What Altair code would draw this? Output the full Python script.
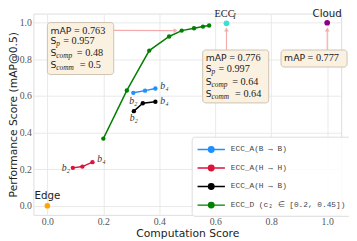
import altair as alt
import pandas as pd

# ---------------- data ----------------
series_names = ["ECC_A(B → B)", "ECC_A(H → H)", "ECC_A(H → B)", "ECC_D (c₂ ∈ [0.2, 0.45])"]
series_colors = ["#1e90ff", "#dc143c", "#000000", "#008000"]

blue_x = [0.307, 0.349, 0.386]
blue_y = [0.617, 0.629, 0.641]
red_x = [0.091, 0.125, 0.161]
red_y = [0.207, 0.214, 0.238]
black_x = [0.309, 0.341, 0.386]
black_y = [0.517, 0.560, 0.568]
green_x = [0.200, 0.284, 0.364, 0.435, 0.480, 0.524, 0.556, 0.578]
green_y = [0.367, 0.630, 0.848, 0.925, 0.957, 0.970, 0.979, 0.985]

edge_x, edge_y = [0.0], [0.0]
ecci_x, ecci_y = [0.64], [0.997]
cloud_x, cloud_y = [1.0], [1.0]

box1_lines = [("mAP", "", "= 0.763"), ("S", "p", "= 0.957"), ("S", "comp", "= 0.48"), ("S", "comm", "= 0.5")]
box2_lines = [("mAP", "", "= 0.776"), ("S", "p", "= 0.997"), ("S", "comp", "= 0.64"), ("S", "comm", "= 0.64")]
box3_lines = [("mAP", "", "= 0.777")]

tick_values = [0.0, 0.2, 0.4, 0.6, 0.8, 1.0]

# ---------------- styling ----------------
SANS = "DejaVu Sans"
SERIF = "Liberation Serif"
MONO = "Liberation Mono"
BOX_FILL = "#fbf1e1"
BOX_STROKE = "#cdc2b0"
ARROW = "#f4abab"

xs = alt.Scale(domain=[-0.05, 1.05], nice=False, zero=False)
ys = alt.Scale(domain=[-0.05, 1.05], nice=False, zero=False)
X = alt.X("x:Q", scale=xs, axis=alt.Axis(title="Computation Score", values=tick_values, format=".1f"))
Y = alt.Y("y:Q", scale=ys, axis=alt.Axis(title="Performance Score (mAP@0.5)", values=tick_values, format=".1f"))

rows = []
for name, xv, yv in zip(series_names, [blue_x, red_x, black_x, green_x], [blue_y, red_y, black_y, green_y]):
    for i, (a, b) in enumerate(zip(xv, yv)):
        rows.append({"series": name, "x": a, "y": b, "idx": i})
df = pd.DataFrame(rows)

legend_path = "M-2,0H2M-0.4,0A0.4,0.4,0,1,0,0.4,0A0.4,0.4,0,1,0,-0.4,0Z"
color = alt.Color(
    "series:N",
    scale=alt.Scale(domain=series_names, range=series_colors),
    sort=series_names,
    legend=alt.Legend(
        title=None, orient="none", legendX=162, legendY=126,
        symbolType=legend_path, symbolSize=196, symbolStrokeWidth=1.5,
        symbolOffset=7, labelOffset=12, padding=5, rowPadding=5,
        labelFont=MONO, labelFontSize=8, labelColor="#444",
        fillColor="rgba(255,255,255,0.85)", strokeColor="#dddddd", cornerRadius=3,
    ),
)

lines = alt.Chart(df).mark_line(strokeWidth=1.5).encode(x=X, y=Y, color=color, order="idx:Q")
pts = alt.Chart(df).mark_point(filled=True, size=20, opacity=1).encode(x=X, y=Y, color=color)


def one(x, y, text=""):
    return alt.Chart(pd.DataFrame({"x": [x], "y": [y], "t": [text]}))


def txt(x, y, text, font, size, dx=0, dy=0, style="normal", align="left", col="#222"):
    return one(x, y, text).mark_text(
        align=align, baseline="middle", dx=dx, dy=dy, font=font, fontSize=size,
        fontStyle=style, color=col
    ).encode(x=X, y=Y, text="t:N")


layers = []


def box(x0, x1, y0, y1):
    return alt.Chart(pd.DataFrame({"x": [x0], "x2": [x1], "y": [y0], "y2": [y1]})).mark_rect(
        fill=BOX_FILL, stroke=BOX_STROKE, strokeWidth=1, cornerRadius=3
    ).encode(x=X, x2="x2:Q", y=Y, y2="y2:Q")


def box_text(x0, ys_, lines_):
    out = []
    eq_dx = {"": 24, "p": 13, "comp": 27, "comm": 30}
    for yy, (a, sub, rest) in zip(ys_, lines_):
        out.append(txt(x0, yy, a, SANS, 9.5))
        if sub:
            out.append(txt(x0, yy, sub, SERIF, 7.5, dx=6, dy=3, style="italic"))
        out.append(txt(x0, yy, rest, SERIF, 10.5, dx=eq_dx[sub]))
    return out


def arrow(x0, y0, x1, y1, hx, hy, shape):
    r = alt.Chart(pd.DataFrame({"x": [x0], "y": [y0], "x2": [x1], "y2": [y1]})).mark_rule(
        color=ARROW, strokeWidth=1.2
    ).encode(x=X, y=Y, x2="x2:Q", y2="y2:Q")
    h = one(hx, hy).mark_point(shape=shape, filled=True, size=22, color=ARROW, opacity=1).encode(x=X, y=Y)
    return [r, h]


layers += arrow(0.237, 0.958, 0.455, 0.957, 0.458, 0.957, "triangle-right")
layers += arrow(0.64, 0.851, 0.64, 0.96, 0.64, 0.963, "triangle-up")
layers += arrow(1.0, 0.851, 1.0, 0.96, 1.0, 0.963, "triangle-up")

layers.append(box(0.0, 0.237, 0.717, 1.001))
layers.append(box(0.555, 0.791, 0.562, 0.851))
layers.append(box(0.835, 1.071, 0.758, 0.851))
layers += box_text(0.011, [0.957, 0.899, 0.834, 0.767], box1_lines)
layers += box_text(0.566, [0.806, 0.748, 0.677, 0.610], box2_lines)
layers += box_text(0.846, [0.806], box3_lines)

layers += [lines, pts]

layers.append(one(edge_x[0], edge_y[0]).mark_point(filled=True, size=34, color="#ffa500", opacity=1).encode(x=X, y=Y))
layers.append(one(ecci_x[0], ecci_y[0]).mark_point(filled=True, size=34, color="#40e0d0", opacity=1).encode(x=X, y=Y))
layers.append(one(cloud_x[0], cloud_y[0]).mark_point(filled=True, size=34, color="#8b008b", opacity=1).encode(x=X, y=Y))

layers.append(txt(edge_x[0], edge_y[0], "Edge", SANS, 10.5, dy=-10, align="center"))
layers.append(txt(cloud_x[0], cloud_y[0], "Cloud", SANS, 10.5, dy=-9, align="center"))
layers.append(txt(ecci_x[0], ecci_y[0], "ECC", SERIF, 10.5, dx=-2, dy=-9, align="center"))
layers.append(txt(ecci_x[0], ecci_y[0], "I", SERIF, 7.5, dx=7, dy=-6, style="italic"))

layers.append(txt(red_x[0], red_y[0], "b₂", SERIF, 10, dx=-3, dy=0, style="italic", align="right", col="#333"))
layers.append(txt(red_x[-1], red_y[-1], "b₄", SERIF, 10, dx=5, dy=-3, style="italic", col="#333"))
layers.append(txt(blue_x[0], blue_y[0], "b₂", SERIF, 10, dx=0, dy=8, style="italic", align="center", col="#333"))
layers.append(txt(blue_x[-1], blue_y[-1], "b₄", SERIF, 10, dx=5, dy=-2, style="italic", col="#333"))
layers.append(txt(black_x[0], black_y[0], "b₂", SERIF, 10, dx=0, dy=7, style="italic", align="center", col="#333"))
layers.append(txt(black_x[-1], black_y[-1], "b₄", SERIF, 10, dx=5, dy=-1, style="italic", col="#333"))

chart = alt.layer(*layers).properties(
    width=315, height=206,
    autosize=alt.AutoSizeParams(type="none"),
    padding={"left": 26, "top": 3, "right": 8, "bottom": 24},
).configure_view(stroke="#dddddd").configure_axis(
    labelFont=SERIF, labelFontSize=10, labelColor="#555", labelPadding=2,
    titleFont=SANS, titleFontSize=11, titleColor="#222", titleFontWeight="normal",
    ticks=False, domain=False, gridColor="#e8e8e8", titlePadding=1,
)

chart.save("out.html", embed_options={"renderer": "svg", "actions": False})
